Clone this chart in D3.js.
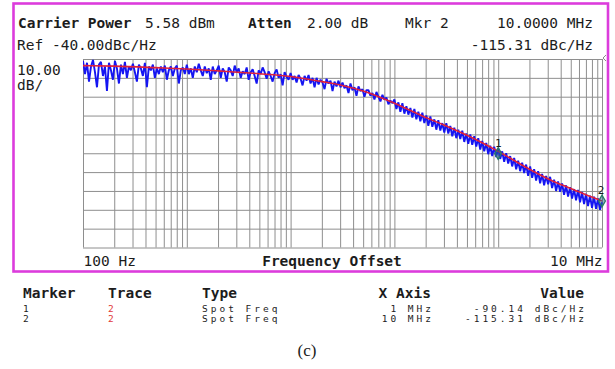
<!DOCTYPE html>
<html>
<head>
<meta charset="utf-8">
<script src="https://cdn.jsdelivr.net/npm/d3@7"></script>
<style>
  body { margin: 0; background: #fff; }
  svg { display: block; }
  text { font-family: 'DejaVu Sans Mono', monospace; fill: #1c1c1c; }
</style>
</head>
<body>
<div id="chart"></div>
<script>
// analyzer settings
const refLevel = -40;
const dbPerDiv = 10;
const numDivs = 10;
const fStart = 100;
const fStop = 1e7;

// smoothed trace (red)
const smoothFreq = [100, 200, 500, 1e3, 2e3, 5e3, 1e4, 2e4, 3e4, 5e4, 1e5, 2e5, 3e5, 5e5, 1e6, 2e6, 3e6, 5e6, 7e6, 1e7];
const smoothDb = [-43.5, -43.8, -44.6, -45.3, -46.3, -47.8, -49.3, -52, -53.8, -57, -63.5, -71, -75, -80.5, -89, -98.5, -103.5, -108.7, -112, -115.3];

// raw trace (blue), sweep points evenly spaced in log frequency
const rawDb = [
  -41, -48, -42, -52, -44, -40.5, -47, -55, -43, -41.5, -49, -44, -57,
  -42, -46, -51, -41, -45, -53, -43, -48, -41.5, -50, -44, -46, -42.5,
  -47, -52, -43, -45, -49, -42, -55, -44, -46, -43, -50, -45, -48,
  -44, -47, -43.5, -51, -46, -44, -49, -45, -43.5, -53, -46, -44.5, -48,
  -43, -48, -45, -50, -44, -47, -42.5, -46, -49, -44, -47.5, -45, -51,
  -44, -48, -46, -43.5, -50, -45, -47, -52, -44.5, -46, -49, -43.5, -47,
  -45, -50, -46.5, -48, -44.5, -51, -47, -45.5, -49, -53, -46, -48, -44.5,
  -47, -50.5, -46.5, -49, -52, -47.5, -45.5, -50, -48, -54, -47, -49.5, -51,
  -47.5, -51, -49, -52.5, -48.5, -50.5, -54, -49, -51.5, -48.5, -53, -50, -55,
  -50, -53.5, -51, -52.5, -56, -50.5, -53, -51.5, -57, -52, -54.5, -51.5, -55,
  -52.5, -55.5, -54, -58, -53, -56.5, -55, -59.5, -54.5, -57, -56, -60, -56.5,
  -56.5, -59.5, -58, -61.5, -57.5, -60, -62.5, -59, -61.5, -60.5, -64, -62, -63.5,
  -61.5, -66.5, -63, -68, -63.5, -69, -65, -69.5, -66, -71, -66.5, -72, -68,
  -73, -68.5, -74, -70, -75.5, -70.5, -76, -72, -77.5, -72.5, -78, -74, -79,
  -74, -79.5, -75.5, -81, -76.5, -82, -77.5, -82.5, -78, -84, -79.5, -85, -80,
  -85.5, -81, -86.5, -82, -88, -83.5, -89, -84.5, -90.5, -86, -91.5, -86.5, -92,
  -87.5, -93, -89, -94.5, -90, -95.5, -91.5, -97, -92.5, -98.5, -94, -99.5, -95,
  -100.5, -96, -102, -97, -103, -98.5, -104.5, -99.5, -106, -101, -107, -102, -106.5,
  -102.5, -108.5, -104, -110, -105, -110.5, -106, -112, -107, -113, -108, -114, -109,
  -115, -109.5, -116, -110.5, -117, -111.5, -118, -112.5, -119, -113, -119.5, -114, -120,
  -116
];

// markers
const markerIds = ['1', '2'];
const markerFreq = [1e6, 1e7];
const markerDb = [-90.14, -115.31];

// marker table
const tableHead = ['Marker', 'Trace', 'Type', 'X Axis', 'Value'];
const tableMarker = ['1', '2'];
const tableTrace = ['2', '2'];
const tableType = ['Spot Freq', 'Spot Freq'];
const tableXAxis = ['1 MHz', '10 MHz'];
const tableValue = ['-90.14', '-115.31'];
const tableUnit = 'dBc/Hz';

const W = 615, H = 369;
const plot = { left: 83, right: 602, top: 59, bottom: 247.5 };

const svg = d3.select('#chart').append('svg')
  .attr('width', W)
  .attr('height', H);

const x = d3.scaleLog()
  .domain([fStart, fStop])
  .range([plot.left, plot.right]);

const y = d3.scaleLinear()
  .domain([refLevel - dbPerDiv * numDivs, refLevel])
  .range([plot.bottom, plot.top]);

// magenta frame
svg.append('rect')
  .attr('x', 13.5).attr('y', 3.5)
  .attr('width', 594.5).attr('height', 268)
  .attr('fill', 'none')
  .attr('stroke', '#dc3cdc')
  .attr('stroke-width', 2.6);

// grid ----------------------------------
const gridColor = '#8e8e8e';
const xGrid = svg.append('g')
  .attr('transform', `translate(0,${plot.bottom})`)
  .call(d3.axisBottom(x)
    .ticks(40)
    .tickSize(-(plot.bottom - plot.top))
    .tickFormat(''));
xGrid.select('.domain').remove();
xGrid.selectAll('line').attr('stroke', gridColor).attr('stroke-width', 1);

const yGrid = svg.append('g')
  .attr('transform', `translate(${plot.left},0)`)
  .call(d3.axisLeft(y)
    .ticks(numDivs)
    .tickSize(-(plot.right - plot.left))
    .tickFormat(''));
yGrid.select('.domain').remove();
yGrid.selectAll('line').attr('stroke', gridColor).attr('stroke-width', 1);

// x end labels
const xLabels = svg.append('g')
  .attr('transform', `translate(0,${plot.bottom})`)
  .call(d3.axisBottom(x)
    .tickValues([fStart, fStop])
    .tickSize(0)
    .tickFormat(d => d === fStart ? '100 Hz' : '10 MHz'));
xLabels.select('.domain').remove();
xLabels.selectAll('text')
  .attr('dy', 0)
  .attr('y', 18.5)
  .style('font-family', "'DejaVu Sans Mono', monospace")
  .style('font-size', '14.5px')
  .attr('fill', '#1c1c1c')
  .attr('text-anchor', (d, i) => i === 0 ? 'start' : 'end');

svg.append('text')
  .attr('x', 332).attr('y', 266)
  .attr('text-anchor', 'middle')
  .style('font-size', '14.5px')
  .style('font-weight', 'bold')
  .text('Frequency Offset');

// traces ----------------------------------
svg.append('clipPath').attr('id', 'plotClip')
  .append('rect')
  .attr('x', plot.left).attr('y', plot.top - 3)
  .attr('width', plot.right - plot.left + 1)
  .attr('height', plot.bottom - plot.top + 3);

const rawFreq = rawDb.map((d, i) => fStart * Math.pow(fStop / fStart, i / (rawDb.length - 1)));

const line = d3.line()
  .x(d => x(d[0]))
  .y(d => y(d[1]));

svg.append('path')
  .datum(rawDb.map((d, i) => [rawFreq[i], d]))
  .attr('clip-path', 'url(#plotClip)')
  .attr('fill', 'none')
  .attr('stroke', '#1515f2')
  .attr('stroke-width', 1.9)
  .attr('stroke-linejoin', 'bevel')
  .attr('d', line);

svg.append('path')
  .datum(smoothDb.map((d, i) => [smoothFreq[i], d]))
  .attr('clip-path', 'url(#plotClip)')
  .attr('fill', 'none')
  .attr('stroke', '#e0203a')
  .attr('stroke-width', 1.6)
  .attr('d', line.curve(d3.curveMonotoneX));

// markers
const markers = svg.selectAll('.marker')
  .data(markerIds)
  .enter()
  .append('g')
  .attr('class', 'marker')
  .attr('transform', (d, i) => `translate(${x(markerFreq[i])},${y(markerDb[i])})`);

markers.append('path')
  .attr('d', d3.symbol(d3.symbolDiamond, 40))
  .attr('fill', 'rgba(40,100,140,0.5)')
  .attr('stroke', '#2a7a68')
  .attr('stroke-width', 1.3);

markers.append('text')
  .attr('x', (d, i) => i === 1 ? -1 : 0)
  .attr('y', -7)
  .attr('text-anchor', 'middle')
  .style('font-size', '11px')
  .text(d => d);

// ref level arrow on right edge
svg.append('path')
  .attr('d', `M${plot.right + 4},${plot.top - 4} L${plot.right + 1},${plot.top - 1} L${plot.right + 4},${plot.top + 2}`)
  .attr('fill', 'none')
  .attr('stroke', '#888')
  .attr('stroke-width', 1);

// header ----------------------------------
const hdr = [
  { t: 'Carrier Power', x: 18, y: 28, b: true },
  { t: '5.58 dBm', x: 145, y: 28 },
  { t: 'Atten', x: 248, y: 28, b: true },
  { t: '2.00 dB', x: 307, y: 28 },
  { t: 'Mkr 2', x: 405, y: 28 },
  { t: '10.0000 MHz', x: 593, y: 28, end: true },
  { t: 'Ref -40.00dBc/Hz', x: 17, y: 50 },
  { t: '-115.31 dBc/Hz', x: 593, y: 50, end: true },
  { t: '10.00', x: 17, y: 75 },
  { t: 'dB/', x: 17, y: 90 }
];
svg.selectAll('.hdr')
  .data(hdr)
  .enter()
  .append('text')
  .attr('class', 'hdr')
  .attr('x', d => d.x)
  .attr('y', d => d.y)
  .attr('text-anchor', d => d.end ? 'end' : 'start')
  .style('font-size', '14.5px')
  .style('font-weight', d => d.b ? 'bold' : 'normal')
  .text(d => d.t);

// marker table ----------------------------------
const colX = [23, 108, 202, 431, 584];
const colAnchor = ['start', 'start', 'start', 'end', 'end'];
svg.selectAll('.th')
  .data(tableHead)
  .enter()
  .append('text')
  .attr('class', 'th')
  .attr('x', (d, i) => colX[i])
  .attr('y', 298)
  .attr('text-anchor', (d, i) => colAnchor[i])
  .style('font-size', '14.5px')
  .style('font-weight', 'bold')
  .text(d => d);

const rowY = [312, 322];
const small = (sel) => sel.style('font-size', '9.5px').style('letter-spacing', '3px');
tableMarker.forEach((m, r) => {
  small(svg.append('text').attr('x', colX[0]).attr('y', rowY[r]).text(m));
  small(svg.append('text').attr('x', colX[1]).attr('y', rowY[r]).style('fill', '#e23a3a').text(tableTrace[r]));
  small(svg.append('text').attr('x', colX[2]).attr('y', rowY[r]).text(tableType[r]));
  small(svg.append('text').attr('x', colX[3] + 3).attr('y', rowY[r]).attr('text-anchor', 'end').text(tableXAxis[r]));
  small(svg.append('text').attr('x', 526).attr('y', rowY[r]).attr('text-anchor', 'end').text(tableValue[r]));
  small(svg.append('text').attr('x', 587).attr('y', rowY[r]).attr('text-anchor', 'end').text(tableUnit));
});

svg.append('text')
  .attr('x', 307).attr('y', 356)
  .attr('text-anchor', 'middle')
  .style('font-family', "'Liberation Serif', serif")
  .style('font-size', '17px')
  .text('(c)');
</script>
</body>
</html>
